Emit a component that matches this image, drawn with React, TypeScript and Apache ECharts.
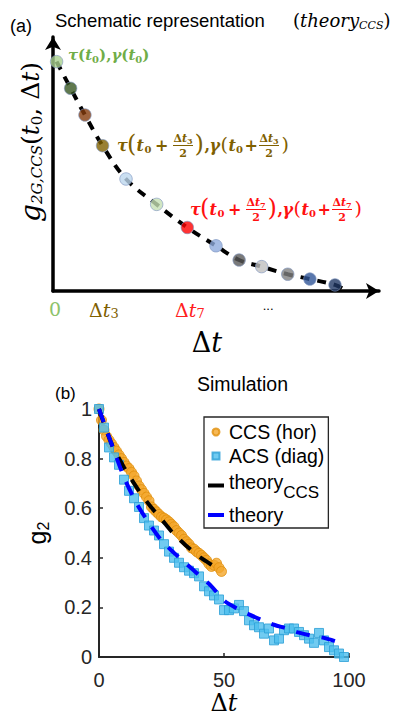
import React, { useEffect, useRef } from 'react';
import * as echarts from 'echarts';

// ---------- Panel (a): schematic ----------
const schemDt = [1.1, 5.4, 9.8, 15.2, 22.4, 31.8, 41.2, 50.0, 57.1, 64.0, 72.0, 78.8, 86.5];
const schemG = [90.3, 79.8, 69.3, 57.2, 44.1, 34.1, 25.0, 17.8, 12.2, 9.6, 6.6, 4.7, 2.4];
const schemColors = ['#a9d18e', '#385723', '#843c0c', '#7f6000', '#bdd7ee', '#c5e0b4', '#ff0000', '#8faadc', '#595959', '#bfbfbf', '#7f7f7f', '#2f5597', '#203864'];
const schemCurveDt = [1.1, 5.4, 9.8, 15.2, 22.4, 31.8, 41.2, 50.0, 57.1, 64.0, 72.0, 78.8, 86.5, 89.0];
const schemCurveG = [90.3, 79.8, 69.3, 57.2, 44.1, 34.1, 25.0, 17.8, 12.2, 9.6, 6.6, 4.7, 2.4, 0.8];
const schemTickVals = [0.6, 15.6, 42.0, 66.0];
const schemTickLabels = ['0', 'Δt3', 'Δt7', '...'];
const schemTickStyles = ['z', 'o', 'r', 'k'];

// ---------- Panel (b): simulation ----------
const ccsX = [0, 1, 2, 3, 4, 5, 6, 7, 8, 9, 10, 11, 12, 13, 14, 15, 16, 17, 18, 19, 20, 21, 22, 23, 24, 25, 26, 27, 28, 29, 30, 31, 32, 33, 34, 35, 36, 37, 38, 39, 40, 41, 42, 43, 44, 45, 46, 47, 48, 49];
const ccsY = [1.0, 0.955, 0.915, 0.89, 0.875, 0.86, 0.845, 0.83, 0.815, 0.8, 0.785, 0.77, 0.76, 0.745, 0.73, 0.71, 0.69, 0.675, 0.66, 0.645, 0.63, 0.605, 0.595, 0.585, 0.575, 0.565, 0.56, 0.553, 0.545, 0.535, 0.525, 0.51, 0.5, 0.49, 0.475, 0.465, 0.455, 0.44, 0.435, 0.425, 0.418, 0.41, 0.4, 0.39, 0.375, 0.365, 0.37, 0.378, 0.36, 0.345];
const acsX = [0, 2, 4, 6, 8, 10, 12, 14, 16, 18, 20, 22, 24, 26, 28, 30, 32, 34, 36, 38, 40, 42, 44, 46, 48, 50, 52, 54, 56, 58, 60, 62, 64, 66, 68, 70, 72, 74, 76, 78, 80, 82, 84, 86, 88, 90, 92, 94, 96, 98];
const acsY = [1.0, 0.925, 0.845, 0.805, 0.775, 0.715, 0.67, 0.64, 0.605, 0.56, 0.53, 0.51, 0.49, 0.455, 0.425, 0.4, 0.38, 0.362, 0.348, 0.338, 0.325, 0.285, 0.265, 0.248, 0.232, 0.189, 0.189, 0.196, 0.21, 0.185, 0.148, 0.128, 0.12, 0.094, 0.115, 0.067, 0.074, 0.108, 0.115, 0.115, 0.101, 0.088, 0.074, 0.057, 0.097, 0.067, 0.04, 0.027, 0.014, 0.0];
const theoryCcsX = [0, 5, 10, 15, 20, 25, 30, 35, 40, 45, 48];
const theoryCcsY = [1.0, 0.86, 0.765, 0.685, 0.615, 0.555, 0.495, 0.448, 0.405, 0.372, 0.355];
const theoryX = [0, 5, 10, 15, 20, 25, 30, 35, 40, 45, 50, 55, 60, 65, 70, 75, 80, 85, 90, 95];
const theoryY = [1.0, 0.86, 0.725, 0.62, 0.54, 0.47, 0.42, 0.375, 0.33, 0.285, 0.228, 0.197, 0.172, 0.15, 0.13, 0.115, 0.098, 0.086, 0.077, 0.062];
const xTicksB = [0, 50, 100];
const yTicksB = [0, 0.2, 0.4, 0.6, 0.8, 1];

const SANS = '"Liberation Sans", Arial, sans-serif';
const SERIF = '"DejaVu Serif", serif';

function fraction(x0: number, yc: number, cx: number, color: string, k: string) {
  return [
    {
      type: 'text', x: x0 + cx, y: yc - 7,
      style: {
        text: '{a|Δ}{b|t}{c|' + k + '}', align: 'center', verticalAlign: 'middle', fill: color,
        fontFamily: SERIF, fontWeight: 'bold', fontSize: 11,
        rich: {
          a: { fontSize: 11, fontFamily: SERIF, fontWeight: 'bold', fill: color },
          b: { fontSize: 11, fontFamily: SERIF, fontWeight: 'bold', fontStyle: 'italic', fill: color },
          c: { fontSize: 8, fontFamily: SERIF, fontWeight: 'bold', fill: color, padding: [5, 0, 0, 0] },
        },
      },
    },
    { type: 'rect', shape: { x: x0 + cx - 10, y: yc, width: 20, height: 1 }, style: { fill: color } },
    {
      type: 'text', x: x0 + cx, y: yc + 8,
      style: { text: '2', align: 'center', verticalAlign: 'middle', fill: color, fontFamily: SERIF, fontWeight: 'bold', fontSize: 11 },
    },
  ];
}

function annotation(x0: number, yc: number, color: string, k: string) {
  const t = (x: number, y: number, text: string, extra: any = {}) => ({
    type: 'text', x: x0 + x, y: yc + y,
    style: { text, fill: color, fontFamily: SERIF, fontWeight: 'bold', fontSize: 16, align: 'left', verticalAlign: 'middle', ...extra },
  });
  return [
    t(0, 0, 'τ', { fontStyle: 'italic' }),
    t(10, -1, '(', { fontSize: 24, fontWeight: 'normal' }),
    t(19.5, 0, 't', { fontStyle: 'italic' }),
    t(27.5, 4, '0', { fontSize: 10 }),
    t(38, 0, '+'),
    ...fraction(x0, yc, 66, color, k),
    t(77.5, -1, ')', { fontSize: 24, fontWeight: 'normal' }),
    t(87.5, 0, ','),
    t(92.5, 0, 'γ', { fontStyle: 'italic' }),
    t(103.5, -1, '(', { fontSize: 19, fontWeight: 'normal' }),
    t(111.5, 0, 't', { fontStyle: 'italic' }),
    t(119, 4, '0', { fontSize: 10 }),
    t(127.5, 0, '+'),
    ...fraction(x0, yc, 152, color, k),
    t(164.5, -1, ')', { fontSize: 19, fontWeight: 'normal' }),
  ];
}

export default function App() {
  const ref = useRef<HTMLDivElement>(null);
  useEffect(() => {
    if (!ref.current) return;
    const chart = echarts.init(ref.current, null, { renderer: 'svg' });
    const tickStyleRich = {
      z: { color: '#8dc26a', fontSize: 19, fontFamily: SERIF },
      o: { color: '#7f6000', fontSize: 19, fontFamily: SERIF },
      oi: { color: '#7f6000', fontSize: 19, fontFamily: SERIF, fontStyle: 'italic' },
      os: { color: '#7f6000', fontSize: 13, fontFamily: SERIF, padding: [8, 0, 0, 0] },
      r: { color: '#ff2020', fontSize: 19, fontFamily: SERIF },
      ri: { color: '#ff2020', fontSize: 19, fontFamily: SERIF, fontStyle: 'italic' },
      rs: { color: '#ff2020', fontSize: 13, fontFamily: SERIF, padding: [8, 0, 0, 0] },
      k: { color: '#000', fontSize: 13, fontFamily: SANS, padding: [0, 0, 6, 0] },
    };
    const option: any = {
      animation: false,
      textStyle: { fontFamily: SANS },
      title: {
        text: 'Simulation', left: 197, top: 374, padding: 0,
        textStyle: { fontSize: 19.5, fontWeight: 'normal', color: '#000', fontFamily: SANS },
      },
      grid: [
        { left: 53, top: 37, width: 326, height: 254, containLabel: false, outerBoundsMode: 'none' },
        { left: 99, top: 409, width: 250, height: 248, containLabel: false, outerBoundsMode: 'none' },
      ],
      xAxis: [
        {
          gridIndex: 0, type: 'value', min: 0, max: 100,
          axisLine: { show: true, symbol: ['none', 'arrow'], symbolSize: [12, 13], lineStyle: { color: '#000', width: 3.5 } },
          axisTick: { show: false },
          splitLine: { show: false },
          axisLabel: {
            show: true, customValues: schemTickVals, margin: 8,
            formatter: (v: number) => {
              let idx = 0;
              schemTickVals.forEach((tv, i) => { if (Math.abs(tv - v) < Math.abs(schemTickVals[idx] - v)) idx = i; });
              const lab = schemTickLabels[idx];
              const st = schemTickStyles[idx];
              if (st === 'o' || st === 'r') return '{' + st + '|Δ}{' + st + 'i|t}{' + st + 's|' + lab.slice(2) + '}';
              return '{' + st + '|' + lab + '}';
            },
            rich: tickStyleRich,
          },
        },
        {
          gridIndex: 1, type: 'value', min: 0, max: 100, interval: 50,
          axisLine: { show: true, onZero: false, lineStyle: { color: '#262626', width: 2 } },
          axisTick: { show: true, inside: true, length: 4, lineStyle: { color: '#262626', width: 1.5 } },
          splitLine: { show: false },
          axisLabel: { show: true, color: '#262626', fontSize: 20, fontFamily: SANS, margin: 13, formatter: (v: number) => (xTicksB.includes(v) ? String(v) : '') },
          name: '{d|Δ}{t|t}', nameLocation: 'middle', nameGap: 32,
          nameTextStyle: {
            rich: {
              d: { fontSize: 24, fontFamily: SERIF, color: '#000' },
              t: { fontSize: 24, fontFamily: SERIF, fontStyle: 'italic', color: '#000' },
            },
          },
        },
      ],
      yAxis: [
        {
          gridIndex: 0, type: 'value', min: 0, max: 100,
          axisLine: { show: true, symbol: ['none', 'arrow'], symbolSize: [12, 13], lineStyle: { color: '#000', width: 3.5 } },
          axisTick: { show: false }, axisLabel: { show: false }, splitLine: { show: false },
        },
        {
          gridIndex: 1, type: 'value', min: 0, max: 1, interval: 0.2,
          axisLine: { show: true, onZero: false, lineStyle: { color: '#262626', width: 2 } },
          axisTick: { show: true, inside: true, length: 4, lineStyle: { color: '#262626', width: 1.5 } },
          splitLine: { show: false },
          axisLabel: {
            show: true, color: '#262626', fontSize: 20, fontFamily: SANS, margin: 7,
            formatter: (v: number) => { const r = Math.round(v * 10) / 10; return yTicksB.some((t) => Math.abs(t - r) < 1e-6) ? String(r) : ''; },
          },
          name: '{g|g}{s|2}', nameLocation: 'middle', nameGap: 48, nameRotate: 90,
          nameTextStyle: {
            rich: {
              g: { fontSize: 25, fontFamily: SANS, color: '#000' },
              s: { fontSize: 16, fontFamily: SANS, color: '#000', padding: [12, 0, 0, 0] },
            },
          },
        },
      ],
      legend: {
        orient: 'vertical', left: 204, top: 417, padding: [5, 4, 3, 4], itemGap: 4,
        itemWidth: 16, itemHeight: 7, itemTextGap: 18,
        borderColor: '#262626', borderWidth: 1.3, backgroundColor: '#fff',
        data: [
          { name: 'CCS (hor)', icon: 'circle' },
          { name: 'ACS (diag)', icon: 'path://M0,0L10,0L10,10L0,10Z' },
          { name: 'theoryCCS', icon: 'path://M0,0L16,0L16,4L0,4Z', itemStyle: { color: '#000', borderWidth: 0 } },
          { name: 'theory', icon: 'path://M0,0L16,0L16,4L0,4Z', itemStyle: { color: '#0000ff', borderWidth: 0 } },
        ],
        formatter: (name: string) => (name === 'theoryCCS' ? '{a|theory}{s|CCS}' : name),
        textStyle: {
          fontSize: 19.5, fontFamily: SANS, color: '#000', lineHeight: 20,
          rich: {
            a: { fontSize: 19.5, fontFamily: SANS, color: '#000', lineHeight: 20, padding: [0, 0, 8, 0] },
            s: { fontSize: 17, fontFamily: SANS, color: '#000', lineHeight: 16, padding: [14, 0, 0, 0] },
          },
        },
      },
      series: [
        {
          type: 'line', name: 'schematic curve', xAxisIndex: 0, yAxisIndex: 0,
          data: schemCurveDt.map((x, i) => [x, schemCurveG[i]]),
          smooth: 0.4, showSymbol: false, z: 2,
          lineStyle: { color: '#000', width: 4, type: [9, 8] },
        },
        {
          type: 'scatter', name: 'schematic points', xAxisIndex: 0, yAxisIndex: 0, symbolSize: 12.5, z: 3,
          data: schemDt.map((x, i) => ({ value: [x, schemG[i]], itemStyle: { color: schemColors[i] } })),
          itemStyle: { borderColor: '#7f96c0', borderWidth: 0.8 },
        },
        {
          type: 'scatter', name: 'CCS (hor)', xAxisIndex: 1, yAxisIndex: 1, symbol: 'circle', symbolSize: 10, z: 3,
          data: ccsX.map((x, i) => [x, ccsY[i]]),
          itemStyle: { color: '#f4a62a', borderColor: '#e08e0b', borderWidth: 1 },
        },
        {
          type: 'scatter', name: 'ACS (diag)', xAxisIndex: 1, yAxisIndex: 1, symbol: 'rect', symbolSize: 9, z: 4,
          data: acsX.map((x, i) => [x, acsY[i]]),
          itemStyle: { color: '#4dbeee', borderColor: '#2a9fd6', borderWidth: 1 },
        },
        {
          type: 'line', name: 'theoryCCS', xAxisIndex: 1, yAxisIndex: 1, smooth: 0.3, showSymbol: false, z: 5,
          data: theoryCcsX.map((x, i) => [x, theoryCcsY[i]]),
          itemStyle: { color: '#000' },
          lineStyle: { color: '#000', width: 4, type: [14, 12] },
        },
        {
          type: 'line', name: 'theory', xAxisIndex: 1, yAxisIndex: 1, smooth: 0.3, showSymbol: false, z: 6,
          data: theoryX.map((x, i) => [x, theoryY[i]]),
          itemStyle: { color: '#0000ff' },
          lineStyle: { color: '#0000ff', width: 4, type: [14, 12] },
        },
      ],
      graphic: [
        { type: 'text', x: 10, y: 26, style: { text: '(a)', fontSize: 18, fontFamily: SANS, fill: '#000', verticalAlign: 'middle' } },
        { type: 'text', x: 55, y: 20, style: { text: 'Schematic representation', fontSize: 18.5, fontFamily: SANS, fill: '#000', verticalAlign: 'middle' } },
        {
          type: 'text', x: 293, y: 20,
          style: {
            text: '{p|(}{t|theory}{s|CCS}{p|)}', verticalAlign: 'middle', fill: '#000',
            rich: {
              p: { fontSize: 18, fontFamily: SERIF, fill: '#000' },
              t: { fontSize: 18, fontFamily: SERIF, fontStyle: 'italic', fill: '#000' },
              s: { fontSize: 11, fontFamily: SERIF, fontStyle: 'italic', fill: '#000', padding: [10, 0, 0, 0] },
            },
          },
        },
        {
          type: 'text', x: 68, y: 55,
          style: {
            text: '{i|τ}{n|(}{i|t}{s|0}{n|),}{i|γ}{n|(}{i|t}{s|0}{n|)}', verticalAlign: 'middle', fill: '#70ad47',
            rich: {
              i: { fontSize: 15, fontFamily: SERIF, fontWeight: 'bold', fontStyle: 'italic', fill: '#70ad47' },
              n: { fontSize: 15, fontFamily: SERIF, fontWeight: 'bold', fill: '#70ad47' },
              s: { fontSize: 10, fontFamily: SERIF, fontWeight: 'bold', fill: '#70ad47', padding: [8, 0, 0, 0] },
            },
          },
        },
        ...annotation(117, 145, '#7f6000', '3'),
        ...annotation(190, 209, '#ff1010', '7'),
        {
          type: 'text', x: 30, y: 142, rotation: Math.PI / 2,
          style: {
            text: '{g|g}{s|2G,CCS}{p|(}{t|t}{z|0}{p|, Δ}{t|t}{p|)}', align: 'center', verticalAlign: 'middle', fill: '#000',
            rich: {
              g: { fontSize: 28, fontFamily: SERIF, fontStyle: 'italic', fill: '#000' },
              s: { fontSize: 15, fontFamily: SERIF, fontStyle: 'italic', fill: '#000', padding: [14, 0, 0, 0] },
              p: { fontSize: 25, fontFamily: SERIF, fill: '#000' },
              t: { fontSize: 25, fontFamily: SERIF, fontStyle: 'italic', fill: '#000' },
              z: { fontSize: 15, fontFamily: SERIF, fill: '#000', padding: [14, 0, 0, 0] },
            },
          },
        },
        {
          type: 'text', x: 207, y: 342,
          style: {
            text: '{d|Δ}{t|t}', align: 'center', verticalAlign: 'middle', fill: '#000',
            rich: {
              d: { fontSize: 27, fontFamily: SERIF, fill: '#000' },
              t: { fontSize: 27, fontFamily: SERIF, fontStyle: 'italic', fill: '#000' },
            },
          },
        },
        { type: 'text', x: 55, y: 393, style: { text: '(b)', fontSize: 17, fontFamily: SANS, fill: '#000', verticalAlign: 'middle' } },
      ],
    };
    chart.setOption(option);
    return () => chart.dispose();
  }, []);
  return <div ref={ref} style={{ width: 394, height: 716, position: 'absolute', left: 0, top: 0 }} />;
}
